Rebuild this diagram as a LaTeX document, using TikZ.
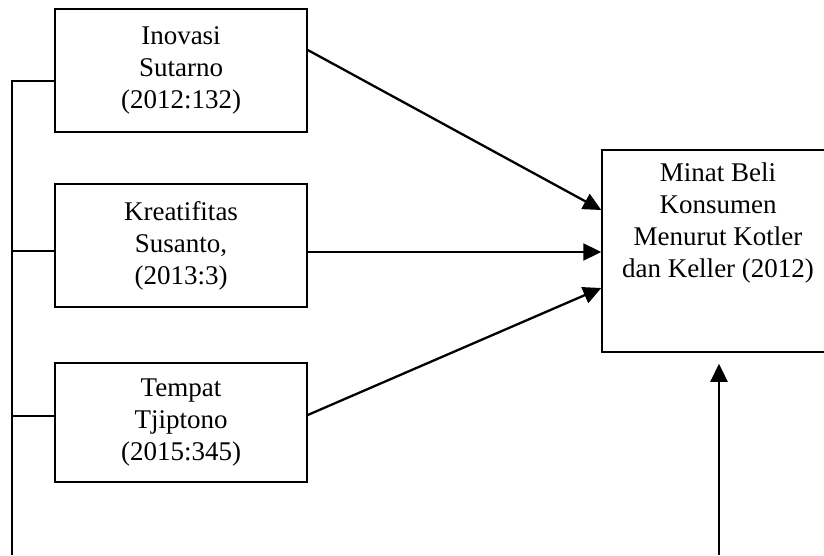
\documentclass[tikz,border=0pt]{standalone}
\usepackage{fontspec}
\setmainfont{Liberation Serif}
\usetikzlibrary{arrows.meta}

\tikzset{
  varbox/.style={draw, line width=1.5pt, align=center, inner sep=0pt,
    font=\fontsize{27}{32}\selectfont},
  link/.style={line width=2.3pt},
  flow/.style={line width=2.3pt, -{Triangle[length=18pt,width=17pt]}}
}

\begin{document}
\begin{tikzpicture}[x=1pt,y=1pt]
        \clip (0,0) rectangle (824,555);

        % Left column
        \node[varbox, minimum width=252pt, minimum height=123pt] (ino) at (181,484.5) {Inovasi\\Sutarno\\(2012:132)};
        \node[varbox, minimum width=252pt, minimum height=123pt] (kre) at (181,309.5) {Kreatifitas\\Susanto,\\(2013:3)};
        \node[varbox, minimum width=252pt, minimum height=119pt] (tem) at (181,132.5) {Tempat\\Tjiptono\\(2015:345)};

        % Right column
        \node[draw, line width=1.5pt, minimum width=232pt, minimum height=202pt,
          label={[varbox, draw=none, anchor=north, yshift=-13pt]north:Minat Beli\\Konsumen\\Menurut Kotler\\dan Keller (2012)}] (minat) at (718,304) {};

        % Spine on the left
        \coordinate (spine) at (12,0);
        \draw[link] ([yshift=-10.5pt]ino.west) -| (spine);
        \draw[link] ([yshift=-5.5pt]kre.west) -- ([yshift=-5.5pt]kre.west -| spine);
        \draw[link] ([yshift=6.5pt]tem.west) -- ([yshift=6.5pt]tem.west -| spine);

        % Arrows into the right box
        \draw[flow] ([yshift=20.5pt]ino.east) -- ([yshift=41pt]minat.west);
        \draw[flow] ([yshift=-6.5pt]kre.east) -- ([yshift=-1pt]minat.west);
        \draw[flow] ([yshift=7.5pt]tem.east) -- ([yshift=-37pt]minat.west);

        % Arrow from below
        \coordinate (base) at (719,0);
        \draw[flow, shorten >=11pt] (base) -- (base |- minat.south);
    \end{tikzpicture}
\end{document}
